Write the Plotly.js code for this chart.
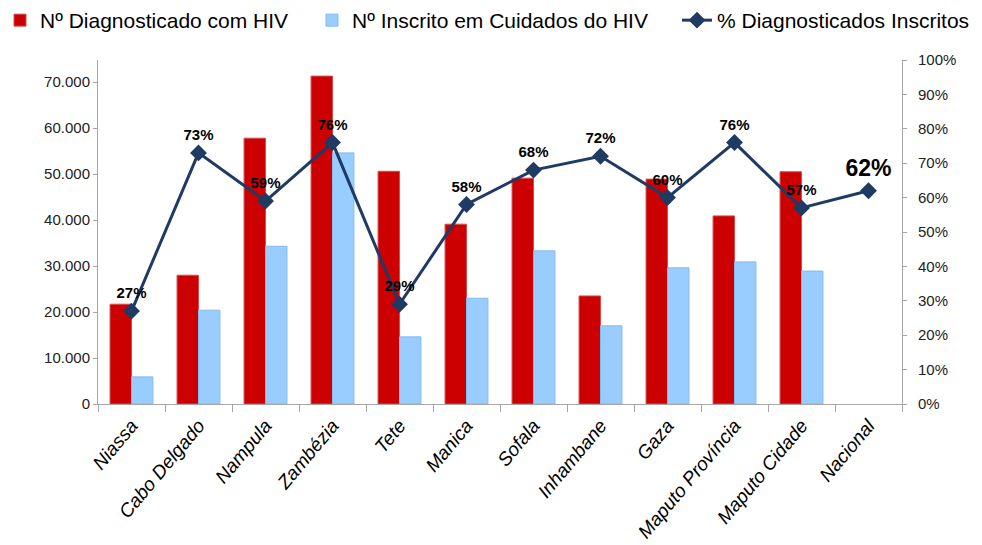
<!DOCTYPE html>
<html><head><meta charset="utf-8">
<script src="https://cdn.plot.ly/plotly-3.0.1.min.js"></script>
<style>html,body{margin:0;padding:0;background:#fff}#chart{width:982px;height:545px}</style>
</head><body><div id="chart"></div>
<script>
const categories = ["Niassa","Cabo Delgado","Nampula","Zambézia","Tete","Manica","Sofala","Inhambane","Gaza","Maputo Província","Maputo Cidade","Nacional"];
const diagnosticados = [21700,28000,57800,71300,50600,39100,49100,23500,48900,40900,50500,null];
const inscritos = [5900,20400,34300,54600,14600,23000,33300,17000,29600,30900,28900,null];
const pctInscritos = [0.27,0.73,0.59,0.76,0.29,0.58,0.68,0.72,0.60,0.76,0.57,0.62];
const pctLabels = ["27%","73%","59%","76%","29%","58%","68%","72%","60%","76%","57%","62%"];
const leftTicks = [0,10000,20000,30000,40000,50000,60000,70000];

const labelSizes = pctLabels.map((_, i) => i === pctLabels.length - 1 ? 23 : 15);

const traces = [
  {type:'bar', name:'Nº Diagnosticado com HIV', x:categories, y:diagnosticados, legend:'legend',
   marker:{color:'#CC0000', line:{color:'#D94C4C', width:1}}, hoverinfo:'none'},
  {type:'bar', name:'Nº Inscrito em Cuidados do HIV', x:categories, y:inscritos, legend:'legend2',
   marker:{color:'#99CCFF', line:{color:'#80BBF2', width:1}}, hoverinfo:'none'},
  {type:'scatter', mode:'lines+markers+text', name:'% Diagnosticados Inscritos', legend:'legend3',
   x:categories, y:pctInscritos, yaxis:'y2', text:pctLabels, textposition:'top center',
   textfont:{family:'Liberation Sans, Arial, sans-serif', size:labelSizes, color:'#000', weight:'bold'},
   line:{color:'#1F3B63', width:3}, marker:{symbol:'diamond', size:13, color:'#1F3B63'},
   cliponaxis:false, hoverinfo:'none'}
];

const legendBase = {orientation:'h', xref:'container', xanchor:'left', y:1.0, yref:'container', yanchor:'top',
  font:{size:21, family:'Liberation Sans, Arial, sans-serif', color:'#000'}, bgcolor:'rgba(0,0,0,0)'};

const layout = {
  width:982, height:545,
  margin:{l:98, r:80, t:60, b:141, autoexpand:false},
  paper_bgcolor:'#fff', plot_bgcolor:'#fff',
  separators:',.',
  barmode:'group', bargap:0.36, bargroupgap:0,
  font:{family:'Liberation Sans, Arial, sans-serif', color:'#222'},
  showlegend:true,
  legend:Object.assign({}, legendBase, {x:0}),
  legend2:Object.assign({}, legendBase, {x:0.3177}),
  legend3:Object.assign({}, legendBase, {x:0.6894}),
  xaxis:{type:'category', range:[-0.5, 11.5], autorange:false, showline:true, linecolor:'#A6A6A6', linewidth:1,
         ticks:'outside', tickson:'boundaries', ticklen:7, tickcolor:'#A6A6A6', ticklabelstandoff:2,
         tickangle:-50, tickfont:{size:19, style:'italic', color:'#000'}, showgrid:false, zeroline:false},
  yaxis:{range:[0,74800], tickvals:leftTicks, tickformat:',d', showline:true, linecolor:'#A6A6A6',
         ticks:'outside', ticklen:4, tickcolor:'#A6A6A6', tickfont:{size:15, color:'#222'},
         showgrid:false, zeroline:false},
  yaxis2:{range:[0,1], overlaying:'y', side:'right', tickformat:'.0%', dtick:0.1, showline:true,
          linecolor:'#A6A6A6', ticks:'outside', ticklen:4, tickcolor:'#A6A6A6', ticklabelstandoff:8,
          tickfont:{size:15, color:'#222'}, showgrid:false, zeroline:false}
};
Plotly.newPlot('chart', traces, layout, {staticPlot:true, displayModeBar:false});
</script></body></html>
